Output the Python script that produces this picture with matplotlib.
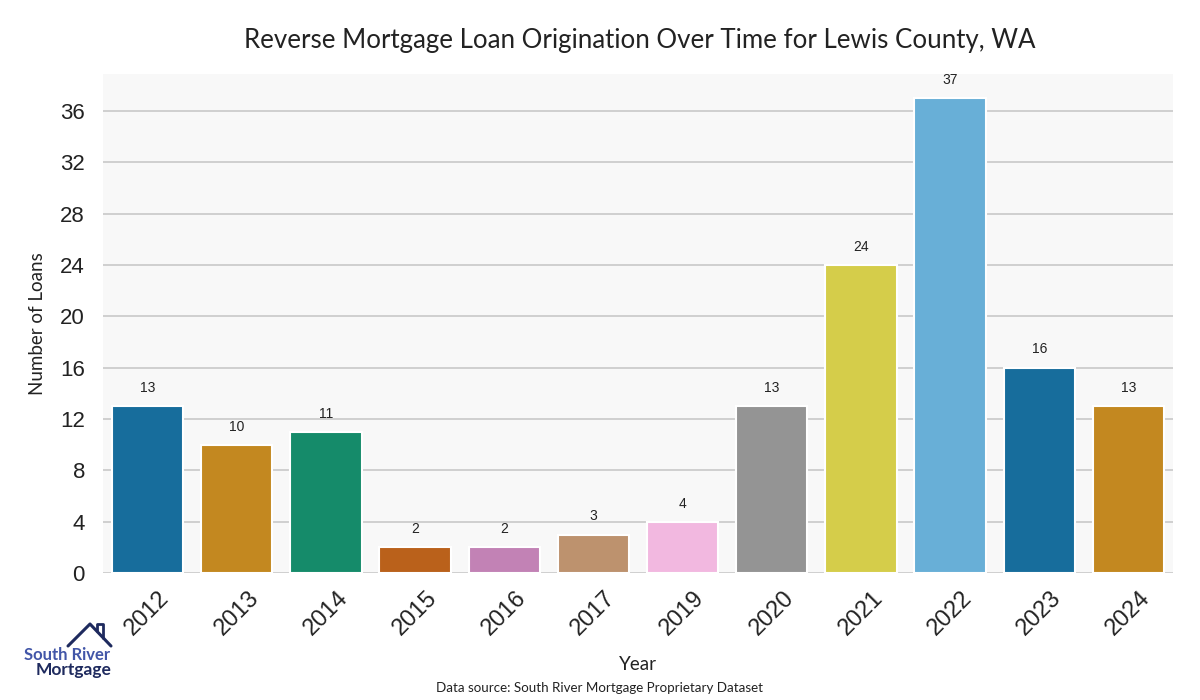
import numpy as np
import matplotlib
matplotlib.use("Agg")
import matplotlib.pyplot as plt
import seaborn as sns

# data
years = ["2012", "2013", "2014", "2015", "2016", "2017", "2019", "2020", "2021", "2022", "2023", "2024"]
loans = [13, 10, 11, 2, 2, 3, 4, 13, 24, 37, 16, 13]
y_ticks = [0, 4, 8, 12, 16, 20, 24, 28, 32, 36]

sns.set_style("whitegrid")
plt.rcParams["font.family"] = ["Liberation Sans", "DejaVu Sans"]

fig = plt.figure(figsize=(12, 7), dpi=100)
ax = fig.add_axes([0.0858, 0.1814, 0.8917, 0.7126])
ax.set_facecolor("#f8f8f8")

sns.barplot(x=years, y=loans, hue=years, palette="colorblind", legend=False,
            edgecolor="white", linewidth=1.5, ax=ax)

for i, v in enumerate(loans):
    ax.annotate(str(v), (i, v), xytext=(0, 8), textcoords="offset points",
                ha="center", va="bottom", fontsize=10, color="#222222")

ax.set_ylim(0, 38.85)
ax.set_xlim(-0.5, len(years) - 0.5)
ax.set_yticks(y_ticks)
ax.grid(axis="y", color="#cccccc", linewidth=1.3)
ax.grid(axis="x", visible=False)
ax.set_axisbelow(True)
for s in ax.spines.values():
    s.set_visible(False)

ax.tick_params(axis="y", labelsize=16, colors="#222222", length=0, pad=13)
ax.tick_params(axis="x", labelsize=17, colors="#222222", length=0, pad=10)
plt.setp(ax.get_xticklabels(), rotation=45, ha="center", rotation_mode="default")

lab_font = ["Lato", "DejaVu Sans"]
ax.set_xlabel("Year", fontsize=13.5, family=lab_font, color="#222222", labelpad=12)
ax.set_ylabel("Number of Loans", fontsize=13.5, family=lab_font, color="#222222", labelpad=10)
fig.text(0.533, 0.942, "Reverse Mortgage Loan Origination Over Time for Lewis County, WA",
         ha="center", va="center", fontsize=18.6, family=lab_font, color="#222222")
fig.text(0.5, 0.017, "Data source: South River Mortgage Proprietary Dataset",
         ha="center", va="center", fontsize=9.6, family=lab_font, color="#222222")

# logo
fig.text(0.0555, 0.065, "South River", ha="center", va="center", fontsize=12,
         family=["Lato", "DejaVu Sans"], color="#4256a8", weight="bold")
fig.text(0.061, 0.043, "Mortgage", ha="center", va="center", fontsize=12.5,
         family=["Lato", "DejaVu Sans"], color="#1e2a5e", weight="bold")
hx = np.array([68, 90, 111]) / 1200
hy = 1 - np.array([646, 624, 646]) / 700
fig.add_artist(plt.Line2D(hx, hy, color="#1e2a5e", linewidth=2.2))
fig.add_artist(plt.Line2D(np.array([97, 97, 103, 103]) / 1200,
                          1 - np.array([631, 624, 624, 638]) / 700,
                          color="#1e2a5e", linewidth=2))

fig.savefig("out.png", dpi=100)
